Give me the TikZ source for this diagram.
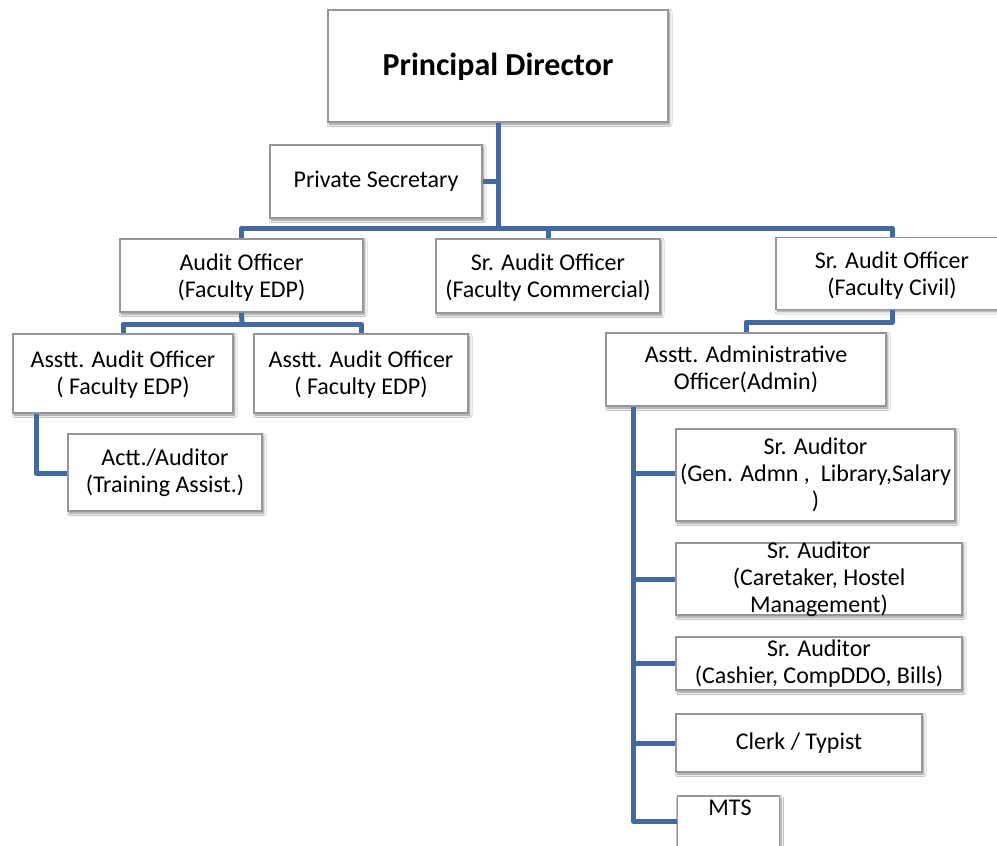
\documentclass[tikz,border=0pt]{standalone}
\usepackage{fontspec}
\setmainfont{Carlito}
\usetikzlibrary{shadows.blur}
\definecolor{conncol}{RGB}{66,106,160}
\definecolor{boxline}{RGB}{150,150,150}
\tikzset{
  box/.style={draw=boxline, line width=1.5pt, fill=white, rectangle, inner sep=0pt,
    blur shadow={shadow xshift=1.5pt, shadow yshift=-2pt, shadow blur radius=2.5pt, shadow blur steps=6, shadow opacity=45}},
  txt/.style={align=center, inner sep=0pt, font=\fontsize{24}{27}\selectfont},
  conn/.style={draw=conncol, line width=5pt, line join=round}
}
\begin{document}
\begin{tikzpicture}[x=1pt, y=-1pt]
\useasboundingbox[fill=white] (0,0) rectangle (997,846);
% boxes
\node[box, minimum width=340, minimum height=112] (pd) at (498,66) {};
\node[box, minimum width=212, minimum height=73] (ps) at (376,181.5) {};
\node[box, minimum width=243, minimum height=73] (ao) at (241.5,275.5) {};
\node[box, minimum width=224, minimum height=74] (saoc) at (548,276) {};
\node[box, minimum width=232, minimum height=72] (civ) at (892,273.5) {};
\node[box, minimum width=280, minimum height=73] (aadm) at (746,369.5) {};
\node[box, minimum width=220, minimum height=79] (aao1) at (123,373.5) {};
\node[box, minimum width=214, minimum height=79] (aao2) at (361,373.5) {};
\node[box, minimum width=194, minimum height=77] (actt) at (165,472.5) {};
\node[box, minimum width=279, minimum height=92] (sa1) at (815.5,475) {};
\node[box, minimum width=286, minimum height=72] (sa2) at (819,579) {};
\node[box, minimum width=286, minimum height=53] (sa3) at (819,663.5) {};
\node[box, minimum width=246, minimum height=58] (clerk) at (799,743) {};
\node[box, minimum width=102, minimum height=70] (mts) at (728.5,831) {};
% texts
\node[txt, font=\fontsize{32}{36}\selectfont\bfseries] at ([yshift=-1pt]pd.center) {Principal Director};
\node[txt] at (ps.center) {Private Secretary};
\node[txt] at ([yshift=-2pt]ao.center) {Audit Officer\\(Faculty EDP)};
\node[txt] at ([yshift=-2pt]saoc.center) {Sr. Audit Officer\\(Faculty Commercial)};
\node[txt] at ([yshift=-2pt]civ.center) {Sr. Audit Officer\\(Faculty Civil)};
\node[txt] at (aadm.center) {Asstt. Administrative\\Officer(Admin)};
\node[txt] at ([yshift=-1pt]aao1.center) {Asstt. Audit Officer\\( Faculty EDP)};
\node[txt] at ([yshift=-1pt]aao2.center) {Asstt. Audit Officer\\( Faculty EDP)};
\node[txt] at (actt.center) {Actt./Auditor\\(Training Assist.)};
\node[txt] at (sa1.center) {Sr. Auditor\\(Gen. Admn ,\ \ Library,Salary\\)};
\node[txt] at (sa2.center) {Sr. Auditor\\(Caretaker, Hostel\\Management)};
\node[txt] at (sa3.center) {Sr. Auditor\\(Cashier, CompDDO, Bills)};
\node[txt] at (clerk.center) {Clerk / Typist};
\node[txt] at (730,808) {MTS};
% junctions
\coordinate (j1) at (498,228);
\coordinate (j2) at (242,324);
\coordinate (j3) at (36,473);
\coordinate (j4) at (746,322);
\coordinate (j5) at (633,821);
% connectors
\draw[conn] (pd.south) -- (j1);
\draw[conn] (ps.east) -- (ps.east -| j1);
\draw[conn] (ao.north) |- (j1) -| (civ.north);
\draw[conn] (saoc.north) -- (saoc.north |- j1);
\draw[conn] (ao.south) -- (j2);
\draw[conn] (aao1.north) |- (j2) -| (aao2.north);
\draw[conn] (aao1.south -| j3) -- (j3) -- (j3 -| actt.west);
\draw[conn] (civ.south) |- (j4) -- (aadm.north);
\draw[conn] (aadm.south -| j5) -- (j5) -- (j5 -| mts.west);
\draw[conn] (sa1.west |- 0,473) -- (j5 |- 0,473);
\draw[conn] (sa2.west) -- (sa2.west -| j5);
\draw[conn] (sa3.west) -- (sa3.west -| j5);
\draw[conn] (clerk.west) -- (clerk.west -| j5);
\end{tikzpicture}
\end{document}
